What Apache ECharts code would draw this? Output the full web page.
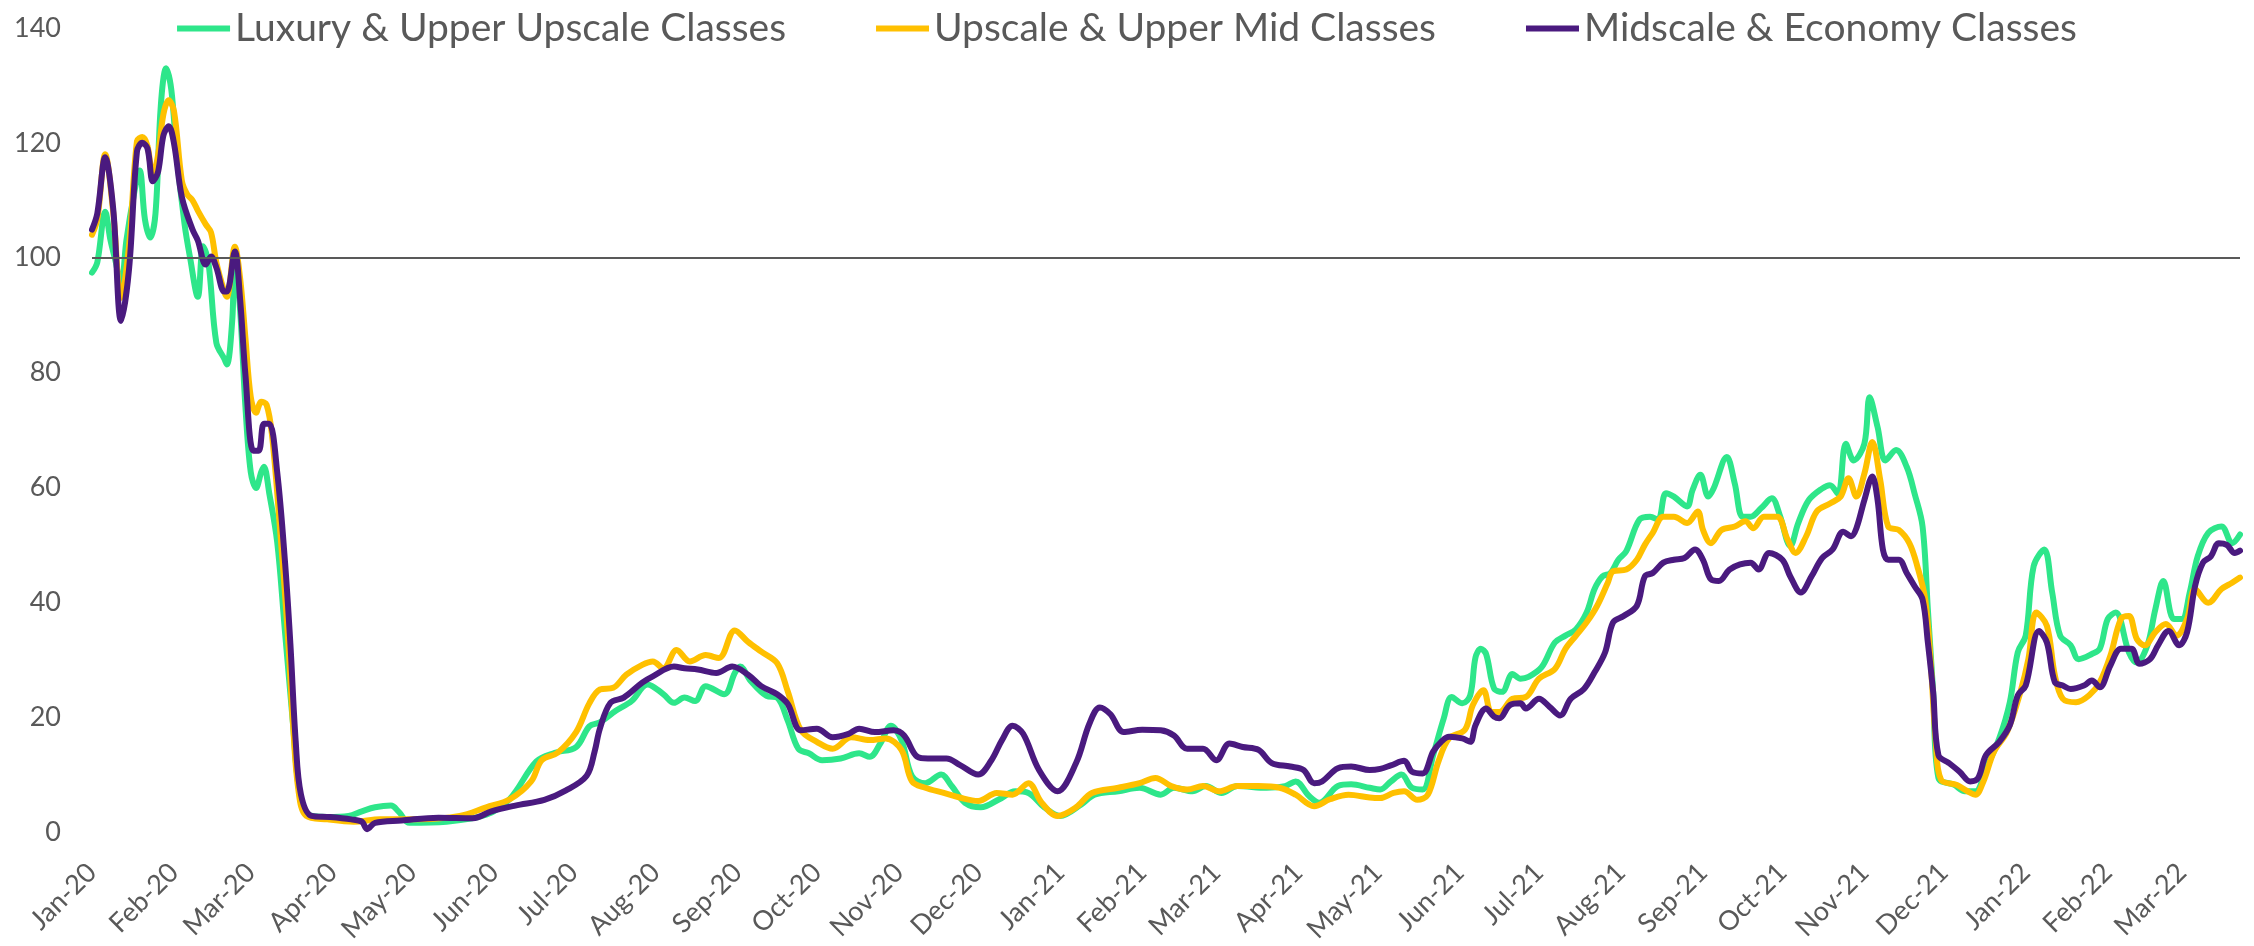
<!DOCTYPE html>
<html>
<head>
<meta charset="utf-8">
<script src="https://cdn.jsdelivr.net/npm/echarts@6/dist/echarts.min.js"></script>
<style>
  html, body { margin: 0; padding: 0; background: #fff; }
  #chart { width: 2254px; height: 946px; }
</style>
</head>
<body>
<div id="chart"></div>
<script>
  // x = days since 2020-01-01, y = index value
  const startDate = [2020, 0, 1]
  const dayCount = 813 // 2020-01-01 .. 2022-03-23

  const monthNames = ['Jan', 'Feb', 'Mar', 'Apr', 'May', 'Jun', 'Jul', 'Aug', 'Sep', 'Oct', 'Nov', 'Dec']
  const yTicks = { min: 0, max: 140, interval: 20 }
  const refLevel = 100

  const seriesNames = ['Luxury & Upper Upscale Classes', 'Upscale & Upper Mid Classes', 'Midscale & Economy Classes']

  const luxury = [[0,97.4],[2,99.2],[5,108],[7,103],[9,99.2],[11,95],[13,103],[16,111.4],[18,115.2],[20,106.7],[22,103.5],[24,107.7],[26,126.4],[28,133],[30,129.2],[32,118],[35,105.8],[37,100.2],[40,93.2],[42,102],[44,99.2],[47,85.2],[50,82.4],[51,81.4],[53,89],[54,100.2],[56,90.8],[58,74],[60,62.7],[62,59.9],[64,62.7],[65,63.6],[67,59],[70,50.5],[73,34.6],[76,18.7],[78,8.3],[81,3.2],[89,2.6],[97,2.8],[102,3.6],[107,4.3],[113,4.6],[116,3.5],[120,1.6],[134,1.8],[149,3],[158,5.8],[168,12.3],[175,13.8],[183,14.8],[188,18.4],[192,19.1],[198,21.1],[204,22.8],[210,25.7],[216,24],[220,22.5],[224,23.4],[228,22.8],[232,25.4],[239,24],[243,27.7],[245,28.8],[249,26.3],[255,23.7],[259,23.4],[263,19.4],[267,14.5],[271,13.7],[276,12.5],[283,12.8],[290,13.7],[294,13.1],[298,15.4],[302,18.5],[306,16],[310,9.7],[315,8.5],[321,10],[325,8],[330,5.1],[336,4.3],[343,5.7],[349,7.1],[354,6.8],[360,4.3],[366,2.8],[374,4.8],[379,6.5],[388,7.1],[396,7.7],[404,6.5],[409,7.7],[416,7.1],[421,8],[427,6.8],[433,8],[444,7.7],[451,8],[455,8.8],[460,6.3],[464,5.1],[471,8],[476,8.3],[483,7.7],[487,7.4],[491,8.8],[495,10],[499,7.7],[503,7.4],[507,13.4],[511,19.8],[514,23.5],[518,22.4],[521,23.8],[523,30.4],[525,31.9],[527,31],[530,25],[533,24.4],[537,27.5],[540,26.7],[543,27],[548,28.7],[553,33],[557,34.2],[561,35.3],[565,38.2],[568,42.3],[571,44.5],[574,45.1],[577,47.4],[580,48.9],[585,54.4],[589,54.9],[592,54.4],[595,59],[598,58.4],[603,56.7],[605,59.5],[608,62.2],[611,58.4],[613,59.8],[618,65.3],[621,60.7],[624,54.9],[627,54.9],[631,56.4],[635,58.1],[638,55.2],[642,49.8],[645,53.8],[649,57.8],[654,59.8],[657,60.4],[660,58.9],[663,67.6],[666,64.7],[670,67.6],[672,75.7],[675,70.5],[678,64.7],[682,66.5],[686,63.6],[689,58.9],[692,53.2],[694,38.8],[696,24.4],[698,9.4],[704,8.2],[708,7.1],[712,7.1],[716,11.1],[721,16.3],[725,22.6],[728,31.3],[731,34.2],[734,46.3],[738,49.2],[741,41.7],[744,34.2],[748,32.5],[751,30.1],[756,31],[759,31.9],[762,37.1],[765,38.2],[770,31.3],[773,29.5],[777,32.5],[780,38.8],[783,43.7],[787,37.1],[790,37.1],[793,41.7],[796,48],[800,52.1],[805,53.2],[809,50.3],[812,51.8]]

  const upscale = [[0,104],[2,106.7],[5,118],[8,108],[11,93],[14,102],[17,120.3],[19,121],[21,119.4],[23,114],[25,118],[27,125],[29,127.4],[31,125.5],[34,113.3],[36,111],[38,110],[40,108.2],[43,105.8],[45,104.4],[47,99.2],[50,94.1],[51,93.2],[54,101.9],[56,96.4],[58,86],[60,75.8],[62,73],[64,74.9],[66,74.4],[68,69.3],[71,53.3],[74,34.6],[76,18.7],[78,7.4],[81,2.8],[89,2.2],[99,1.8],[109,2.2],[124,2.2],[139,2.8],[149,4.3],[158,5.7],[166,8.8],[170,12.5],[176,13.8],[183,17.4],[188,22.4],[192,24.8],[197,25.1],[202,27.4],[208,29.1],[212,29.7],[216,28.5],[221,31.7],[226,29.7],[232,30.8],[237,30.3],[243,35.1],[248,33.1],[253,31.4],[259,29.4],[263,24.5],[268,17.7],[274,15.7],[280,14.5],[287,16.5],[294,16],[300,16.3],[306,14.3],[310,8.8],[315,7.7],[322,6.8],[328,6],[335,5.4],[342,6.8],[348,6.5],[354,8.5],[359,5.1],[365,2.8],[372,4.3],[378,6.8],[388,7.7],[396,8.5],[402,9.4],[408,8],[414,7.4],[420,8],[426,7.1],[433,8],[441,8],[449,7.7],[455,6.5],[462,4.5],[468,5.7],[475,6.5],[483,6],[487,5.9],[492,6.8],[496,7.1],[501,5.6],[505,6.5],[509,12.3],[513,16.3],[519,17.8],[522,22.1],[526,24.7],[529,20.9],[532,20.9],[537,23.2],[542,23.5],[547,26.7],[553,28.4],[557,31.9],[561,34.2],[565,36.5],[569,39.4],[573,43.4],[575,45.4],[580,45.7],[584,47.4],[587,50],[590,52.1],[594,54.9],[598,54.9],[603,53.8],[607,55.8],[609,52.6],[612,50.3],[616,52.6],[621,53.2],[625,54.1],[628,52.9],[632,54.9],[637,54.9],[641,50.9],[644,48.6],[648,51.5],[652,55.8],[657,57.2],[661,58.4],[664,61.6],[667,58.4],[670,62.4],[673,67.9],[676,61.3],[679,53.2],[683,52.6],[687,50.3],[690,46.3],[693,40.5],[695,30.1],[697,15.7],[699,9.1],[705,8.2],[709,7.1],[712,6.5],[715,8.8],[719,14],[724,17.5],[729,24.4],[732,30.1],[735,38.2],[739,35.9],[742,27.3],[745,23.2],[750,22.6],[755,23.8],[759,26.1],[763,30.7],[767,37.1],[770,37.6],[773,33.6],[776,32.5],[780,34.8],[784,36.2],[788,34.2],[792,37.1],[795,42.3],[800,39.9],[805,42.3],[809,43.4],[812,44.3]]

  const midscale = [[0,104.9],[2,107.7],[5,117.5],[8,108.6],[11,89],[14,98],[17,118.5],[19,120],[21,119],[23,113.3],[25,115],[27,121.3],[29,122.9],[31,119.9],[34,110.5],[38,104.9],[40,103],[43,98.8],[45,100.2],[47,98.3],[50,94.1],[51,94.1],[54,101.1],[56,92.7],[58,79.6],[61,66.4],[63,66.4],[65,71.1],[67,71.1],[70,62.7],[73,46.8],[75,32.7],[77,15.8],[79,6.5],[83,2.8],[90,2.6],[98,2.2],[102,1.8],[104,0.5],[107,1.6],[117,2],[131,2.5],[144,2.4],[151,3.6],[160,4.6],[171,5.6],[179,7.2],[187,9.8],[190,14],[192,18],[196,22.5],[201,23.4],[208,26],[212,27.1],[220,28.8],[224,28.5],[229,28.3],[236,27.7],[242,28.8],[248,27.4],[253,25.4],[259,24],[263,22.3],[268,17.7],[274,18],[280,16.5],[286,17.1],[290,18],[296,17.4],[303,17.7],[307,16.8],[312,13.1],[316,12.8],[323,12.8],[328,11.7],[335,10],[340,12.5],[344,16],[348,18.5],[352,17.1],[358,10.8],[365,7.1],[372,12],[377,18.8],[381,21.7],[385,20.5],[390,17.4],[397,17.8],[404,17.7],[409,16.8],[414,14.5],[420,14.5],[425,12.5],[430,15.4],[435,14.8],[441,14.3],[446,12],[453,11.4],[458,10.8],[462,8.5],[465,8.8],[471,11.1],[476,11.4],[483,10.8],[487,11],[491,11.6],[496,12.4],[499,10.5],[503,10.2],[507,14],[510,15.7],[513,16.6],[518,16.3],[521,15.7],[523,18.6],[527,21.5],[530,20.1],[532,19.8],[536,22.1],[540,22.4],[542,21.5],[547,23.2],[551,21.8],[555,20.3],[559,23.2],[564,24.9],[568,27.8],[572,31.3],[575,36.5],[579,37.6],[584,39.4],[587,44.5],[590,45.1],[594,46.9],[598,47.4],[602,47.7],[606,49.2],[609,47.4],[612,44],[615,43.7],[619,45.7],[623,46.6],[627,46.9],[630,45.7],[634,48.6],[639,47.4],[642,44.5],[646,41.7],[650,44.5],[654,47.7],[658,49.2],[662,52.3],[665,51.5],[667,52.9],[670,57.8],[673,61.9],[675,57.8],[677,49.2],[679,47.4],[683,47.4],[686,45.1],[689,42.8],[692,40.5],[694,33],[696,24.4],[698,13.4],[702,12],[706,10.5],[710,8.8],[713,9.4],[716,13.4],[721,15.7],[725,18.6],[728,23.8],[731,25.5],[736,35],[739,33],[742,26.1],[745,25.5],[748,24.9],[753,25.5],[756,26.4],[759,25.2],[763,29],[767,31.9],[771,31.9],[774,29.3],[778,30.1],[781,32.5],[785,35],[789,32.5],[792,34.8],[795,42.8],[798,46.9],[801,48],[804,50.3],[807,50],[810,48.6],[812,49]]

  const colors = ['#2EE68A', '#FFC000', '#4A1A7F']
  const textColor = '#595959'
  const font = 'Lato, "Open Sans", sans-serif'

  function pad (n) {
    return n < 10 ? '0' + n : '' + n
  }

  function buildDays () {
    let days = []
    for (let i = 0; i < dayCount; i++) {
      let d = new Date(startDate[0], startDate[1], startDate[2] + i)
      days.push(d.getFullYear() + '-' + pad(d.getMonth() + 1) + '-' + pad(d.getDate()))
    }
    return days
  }

  function lineSeries (name, data, idx) {
    let s = {
      name: name,
      type: 'line',
      data: data,
      smooth: 0.35,
      showSymbol: false,
      symbol: 'none',
      lineStyle: { width: 6, color: colors[idx], cap: 'round', join: 'round' },
      itemStyle: { color: colors[idx] }
    }
    if (idx === 0) {
      s.markLine = {
        silent: true,
        symbol: 'none',
        label: { show: false },
        lineStyle: { color: textColor, width: 2, type: 'solid' },
        data: [{ yAxis: refLevel }]
      }
    }
    return s
  }

  function getOption () {
    return {
      animation: false,
      backgroundColor: '#fff',
      textStyle: { fontFamily: font },
      legend: {
        top: 4,
        left: 'center',
        icon: 'rect',
        itemWidth: 53,
        itemHeight: 6,
        itemGap: 90,
        textStyle: { fontSize: 39, color: textColor, fontFamily: font },
        data: seriesNames
      },
      grid: {
        left: 92,
        right: 14,
        top: 28,
        bottom: 114,
        outerBoundsMode: 'none'
      },
      xAxis: {
        type: 'category',
        boundaryGap: false,
        data: buildDays(),
        axisLine: { show: false },
        axisTick: { show: false },
        splitLine: { show: false },
        axisLabel: {
          rotate: 45,
          margin: 36,
          fontSize: 27,
          color: textColor,
          fontFamily: font,
          interval: (index, value) => value.slice(8) === '01',
          formatter: value => monthNames[+value.slice(5, 7) - 1] + '-' + value.slice(2, 4)
        }
      },
      yAxis: {
        type: 'value',
        min: yTicks.min,
        max: yTicks.max,
        interval: yTicks.interval,
        axisLine: { show: false },
        axisTick: { show: false },
        splitLine: { show: false },
        axisLabel: { margin: 31, fontSize: 27, color: textColor, fontFamily: font }
      },
      series: [
        lineSeries(seriesNames[0], luxury, 0),
        lineSeries(seriesNames[1], upscale, 1),
        lineSeries(seriesNames[2], midscale, 2)
      ]
    }
  }

  const chart = echarts.init(document.getElementById('chart'))
  chart.setOption(getOption())
</script>
</body>
</html>
